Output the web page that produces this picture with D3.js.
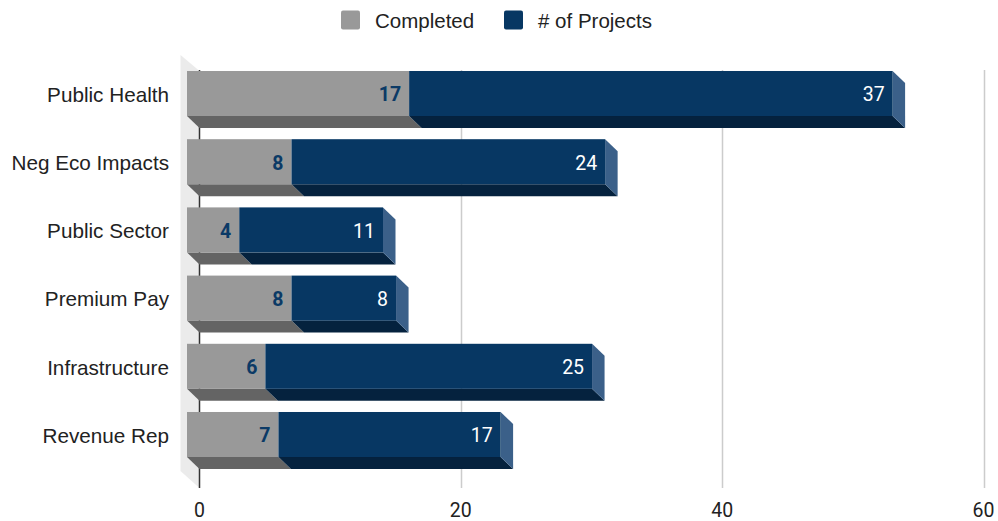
<!DOCTYPE html>
<html>
<head>
<meta charset="utf-8">
<script src="https://cdn.jsdelivr.net/npm/d3@7"></script>
<style>
  body { margin: 0; background: #fff; }
  text { font-family: Arial, "Liberation Sans", sans-serif; }
  .val { font-family: Roboto, Arial, sans-serif; }
  .tick-lbl { font-family: Roboto, Arial, sans-serif; }
</style>
</head>
<body>
<svg id="chart" width="998" height="521"></svg>
<script>
// data
const categories = ["Public Health", "Neg Eco Impacts", "Public Sector", "Premium Pay", "Infrastructure", "Revenue Rep"];
const completed = [17, 8, 4, 8, 6, 7];
const projects = [37, 24, 11, 8, 25, 17];
const xTicks = [0, 20, 40, 60];
const seriesNames = ["Completed", "# of Projects"];

const colors = {
  completed: { front: "#999999", bottom: "#646464", side: "#7a7a7a", label: "#0b3a66" },
  projects: { front: "#073763", bottom: "#05223e", side: "#3b6089", label: "#ffffff" }
};

// 3d depth: front face is shifted left/up from the back plane
const depth = { dx: 12.5, dy: 12 };

const svg = d3.select("#chart");

const x = d3.scaleLinear().domain([0, 60]).range([199.5, 983.5]);
const y = d3.scaleBand().domain(categories).range([59.4, 468.6]).paddingInner(0.34).paddingOuter(0.17);

const plotTop = 70, plotBottom = 488;

// left wall
svg.append("polygon")
  .attr("points", [[x(0) - 19, 55], [x(0), 71], [x(0), plotBottom], [x(0) - 19, 471]].join(" "))
  .attr("fill", "#ebebeb");

// gridlines
svg.append("g").selectAll("line")
  .data(xTicks.filter(d => d > 0))
  .enter().append("line")
  .attr("x1", d => Math.round(x(d)) + 0.5).attr("x2", d => Math.round(x(d)) + 0.5)
  .attr("y1", plotTop).attr("y2", plotBottom)
  .attr("stroke", "#cccccc").attr("stroke-width", 1.5);

// zero axis line
svg.append("line")
  .attr("x1", x(0)).attr("x2", x(0))
  .attr("y1", plotTop).attr("y2", plotBottom)
  .attr("stroke", "#333").attr("stroke-width", 1.5);

// tick labels
svg.append("g").selectAll("text")
  .data(xTicks)
  .enter().append("text")
  .attr("class", "tick-lbl")
  .attr("x", d => x(d))
  .attr("y", 510)
  .attr("dy", "0.35em")
  .attr("text-anchor", "middle")
  .attr("font-size", 19.5)
  .attr("fill", "#222")
  .text(d => d);

// category labels
svg.append("g").selectAll("text")
  .data(categories)
  .enter().append("text")
  .attr("x", 169)
  .attr("y", d => y(d) + y.bandwidth() / 2 + 1)
  .attr("dy", "0.35em")
  .attr("text-anchor", "end")
  .attr("font-size", 20.7)
  .attr("fill", "#222")
  .text(d => d);

// bars
const rows = categories.map((c, i) => ({
  cat: c,
  segs: [
    { key: "completed", v0: 0, v1: completed[i], val: completed[i], bold: true },
    { key: "projects", v0: completed[i], v1: completed[i] + projects[i], val: projects[i], bold: false }
  ]
}));

const bars = svg.append("g").selectAll("g.row")
  .data(rows)
  .enter().append("g")
  .attr("class", "row")
  .each(function(r) {
    const g = d3.select(this);
    const top = y(r.cat), h = y.bandwidth(), bot = top + h;
    const last = r.segs.length - 1;
    r.segs.forEach((s, j) => {
      const fx0 = x(s.v0) - depth.dx, fx1 = x(s.v1) - depth.dx;
      const c = colors[s.key];
      // bottom face
      g.append("polygon")
        .attr("points", [[fx0, bot], [fx1, bot], [fx1 + depth.dx, bot + depth.dy], [fx0 + depth.dx, bot + depth.dy]].join(" "))
        .attr("fill", c.bottom);
      // right side face only on the end of the stack
      if (j === last) {
        g.append("polygon")
          .attr("points", [[fx1, top], [fx1 + depth.dx, top + depth.dy], [fx1 + depth.dx, bot + depth.dy], [fx1, bot]].join(" "))
          .attr("fill", c.side);
      }
      // front face
      g.append("rect")
        .attr("x", fx0).attr("y", top)
        .attr("width", fx1 - fx0).attr("height", h)
        .attr("fill", c.front);
      // value label
      g.append("text")
        .attr("class", "val")
        .attr("x", fx1 - 8)
        .attr("y", top + h / 2 + 1)
        .attr("dy", "0.35em")
        .attr("text-anchor", "end")
        .attr("font-size", 19.5)
        .attr("font-weight", s.bold ? "bold" : "normal")
        .attr("fill", c.label)
        .text(s.val);
    });
  });

// legend
const legend = svg.append("g");
const legendItems = [
  { name: seriesNames[0], color: colors.completed.front, x: 341 },
  { name: seriesNames[1], color: colors.projects.front, x: 504 }
];
legendItems.forEach(d => {
  legend.append("rect")
    .attr("x", d.x).attr("y", 10.5)
    .attr("width", 19).attr("height", 19)
    .attr("rx", 2)
    .attr("fill", d.color);
  legend.append("text")
    .attr("x", d.x + 34)
    .attr("y", 21)
    .attr("dy", "0.35em")
    .attr("font-size", 20.5)
    .attr("fill", "#222")
    .text(d.name);
});
</script>
</body>
</html>
